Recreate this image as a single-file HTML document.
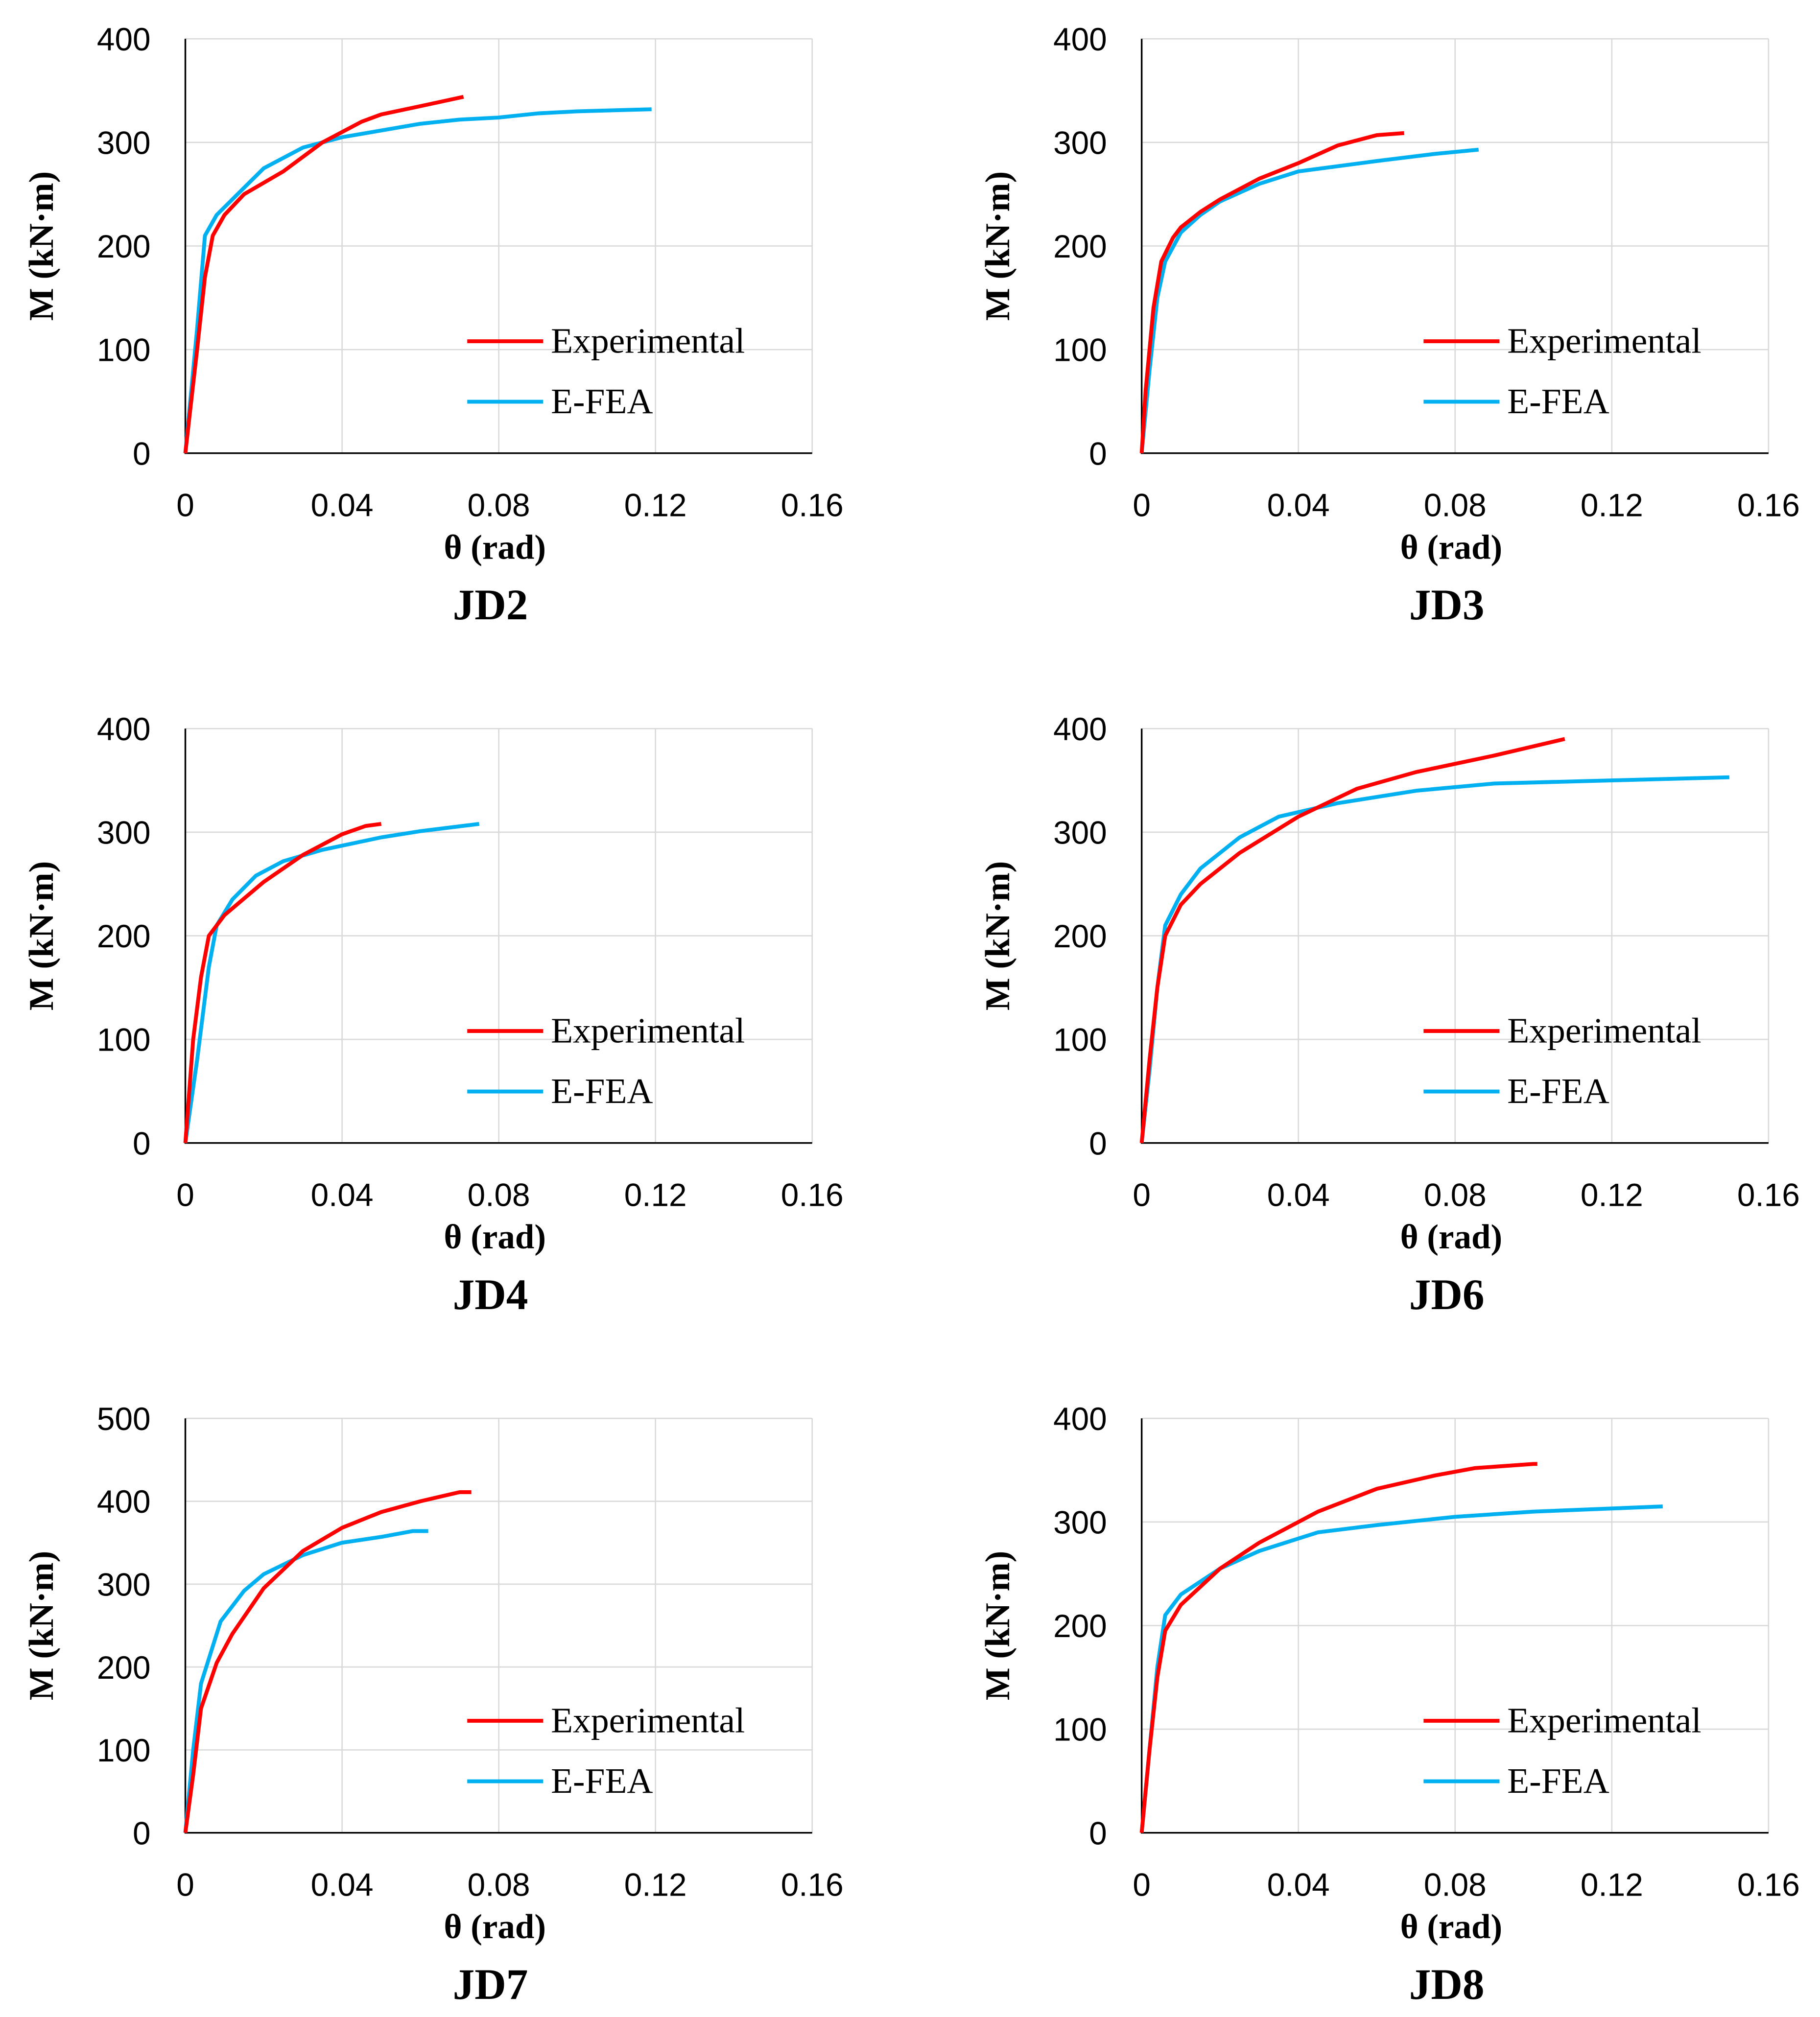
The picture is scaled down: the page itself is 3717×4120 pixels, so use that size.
<!DOCTYPE html>
<html><head><meta charset="utf-8"><style>
html,body{margin:0;padding:0;background:#fff}
svg{display:block}
.tick{font-family:"Liberation Sans",sans-serif;font-size:25px;fill:#000}
.ttl{font-family:"Liberation Serif",serif;font-weight:bold;font-size:27px;fill:#000}
.jd{font-family:"Liberation Serif",serif;font-weight:bold;font-size:34px;fill:#000}
.leg{font-family:"Liberation Serif",serif;font-size:28px;fill:#000}
</style></head><body>
<svg id="root" width="3717" height="4120" viewBox="0 0 1414 1567" xmlns="http://www.w3.org/2000/svg"></svg>
<script>
const panelNames = ["JD2","JD3","JD4","JD6","JD7","JD8"];
const yMaxes = [400,400,400,400,500,400];
const xTicks = [0,0.04,0.08,0.12,0.16];
const xTickLabels = ["0","0.04","0.08","0.12","0.16"];
const expX = [
 [0,0.003,0.005,0.007,0.01,0.015,0.025,0.035,0.045,0.05,0.06,0.071],
 [0,0.001,0.003,0.005,0.008,0.01,0.015,0.02,0.03,0.04,0.05,0.06,0.067],
 [0,0.002,0.004,0.006,0.01,0.02,0.03,0.04,0.046,0.05],
 [0,0.002,0.004,0.006,0.01,0.015,0.025,0.04,0.055,0.07,0.09,0.108],
 [0,0.002,0.004,0.008,0.012,0.02,0.03,0.04,0.05,0.06,0.07,0.073],
 [0,0.002,0.004,0.006,0.01,0.02,0.03,0.045,0.06,0.075,0.085,0.1,0.101]];
const expY = [
 [0,100,170,210,230,250,272,300,320,327,335,344],
 [0,60,140,185,208,218,233,245,265,280,297,307,309],
 [0,100,160,200,220,252,278,298,306,308],
 [0,80,150,200,230,250,280,315,342,358,374,390],
 [0,70,150,205,240,295,340,368,387,400,411,411],
 [0,80,150,195,220,255,280,310,332,345,352,356,356]];
const feaX = [
 [0,0.003,0.005,0.008,0.012,0.02,0.03,0.04,0.06,0.07,0.08,0.09,0.1,0.119],
 [0,0.002,0.004,0.006,0.01,0.015,0.02,0.03,0.04,0.06,0.075,0.086],
 [0,0.003,0.006,0.008,0.012,0.018,0.025,0.035,0.05,0.06,0.075],
 [0,0.002,0.004,0.006,0.01,0.015,0.025,0.035,0.05,0.07,0.09,0.12,0.15],
 [0,0.002,0.004,0.009,0.015,0.02,0.03,0.04,0.05,0.058,0.062],
 [0,0.002,0.004,0.006,0.01,0.02,0.03,0.045,0.06,0.08,0.1,0.133]];
const feaY = [
 [0,120,210,230,245,275,295,305,318,322,324,328,330,332],
 [0,80,150,185,213,230,243,260,272,282,289,293],
 [0,80,170,210,235,258,272,283,295,301,308],
 [0,70,150,210,240,265,295,315,328,340,347,350,353],
 [0,100,180,255,292,312,335,350,357,364,364],
 [0,80,160,210,230,255,272,290,297,305,310,315]];

const NS="http://www.w3.org/2000/svg";
const root=document.getElementById('root');
function mk(tag,attrs,parent,text){const e=document.createElementNS(NS,tag);for(const k in attrs)e.setAttribute(k,attrs[k]);if(text!==undefined)e.textContent=text;parent.appendChild(e);return e;}

panelNames.forEach((nm,i)=>{
  const ox=(i%2)*743, oy=Math.floor(i/2)*536;
  const L=144+ox,R=631+ox,T=30+oy,B=352+oy;
  const ymax=yMaxes[i];
  const sx=v=>L+(v/0.16)*(R-L);
  const sy=v=>B-(v/ymax)*(B-T);
  const g=mk('g',{},root);
  
  
  for(let v=100;v<=ymax;v+=100){
    const l=mk('line',{x1:L,x2:R,y1:sy(v),y2:sy(v),stroke:'#d9d9d9','stroke-width':1},g);
    
  }
  xTicks.forEach((t,k)=>{
    if(k>0){const l=mk('line',{x1:sx(t),x2:sx(t),y1:T,y2:B,stroke:'#d9d9d9','stroke-width':1},g);
    }
    const tx=mk('text',{x:sx(t),y:B+49,'text-anchor':'middle',class:'tick'},g,xTickLabels[k]);
    
  });
  for(let v=0;v<=ymax;v+=100){
    const tx=mk('text',{x:L-27,y:sy(v)+9,'text-anchor':'end',class:'tick'},g,String(v));
    
  }
  const ax=mk('path',{d:`M${L},${T}V${B}H${R}`,fill:'none',stroke:'#000','stroke-width':1.3},g);
  
  const line=(xs,ys,c,name)=>{
    const p=mk('polyline',{points:xs.map((x,j)=>sx(x)+','+sy(ys[j])).join(' '),fill:'none',stroke:c,'stroke-width':3,'stroke-linejoin':'round'},g);
    
  };
  line(feaX[i],feaY[i],'#00b0f0','efea-line');
  line(expX[i],expY[i],'#ff0000','experimental-line');
  const l1=mk('line',{x1:363+ox,x2:422+ox,y1:265+oy,y2:265+oy,stroke:'#ff0000','stroke-width':3},g);
  
  const t1=mk('text',{x:428+ox,y:274+oy,class:'leg'},g,'Experimental');
  
  const l2=mk('line',{x1:363+ox,x2:422+ox,y1:312+oy,y2:312+oy,stroke:'#00b0f0','stroke-width':3},g);
  
  const t2=mk('text',{x:428+ox,y:321+oy,class:'leg'},g,'E-FEA');
  
  const xt=mk('text',{x:(L+R)/2-3,y:434+oy,'text-anchor':'middle',class:'ttl'},g,'θ (rad)');
  
  const yt=mk('text',{x:0,y:0,'text-anchor':'middle',class:'ttl',transform:`translate(${41+ox},${(T+B)/2}) rotate(-90)`},g,'M (kN·m)');
  
  const jt=mk('text',{x:381+ox,y:481+oy,'text-anchor':'middle',class:'jd'},g,nm);
  
});
</script>
</body></html>
